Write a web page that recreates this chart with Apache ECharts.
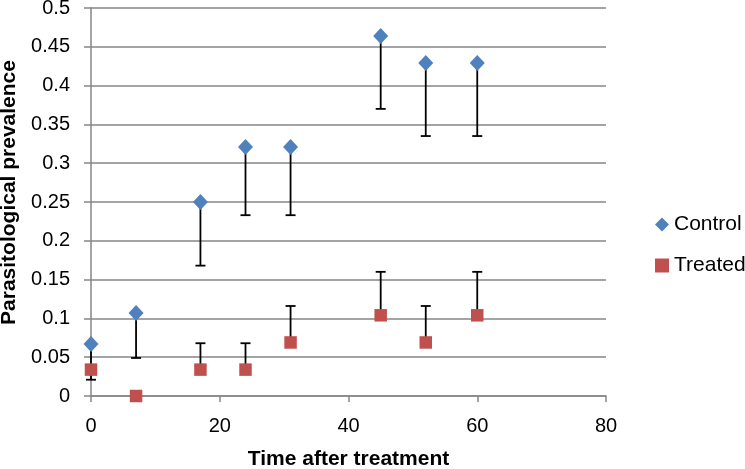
<!DOCTYPE html>
<html><head><meta charset="utf-8">
<script src="https://cdn.jsdelivr.net/npm/echarts@6/dist/echarts.min.js"></script>
<style>html,body{margin:0;padding:0;background:#fff}#c{width:745px;height:469px}</style>
</head><body><div id="c"></div>
<script>
var days = [0, 7, 17, 24, 31, 45, 52, 60];
var control = [0.067, 0.107, 0.25, 0.321, 0.321, 0.464, 0.429, 0.429];
var controlLow = [0.021, 0.049, 0.168, 0.233, 0.233, 0.370, 0.335, 0.335];
var treated = [0.034, 0, 0.034, 0.034, 0.069, 0.104, 0.069, 0.104];
var treatedHigh = [null, null, 0.068, 0.068, 0.116, 0.160, 0.116, 0.160];
var xTicks = [0, 20, 40, 60, 80];

var font = '"Liberation Sans", "DejaVu Sans", sans-serif';
var gray = '#868686';

function errRender(params, api) {
  var x = api.value(0), y0 = api.value(1), y1 = api.value(2);
  var p0 = api.coord([x, y0]), p1 = api.coord([x, y1]);
  var hw = 5;
  return {
    type: 'group',
    children: [
      {type: 'line', shape: {x1: p0[0], y1: p0[1], x2: p1[0], y2: p1[1]}, style: {stroke: '#000', lineWidth: 1.8}},
      {type: 'line', shape: {x1: p1[0] - hw, y1: p1[1], x2: p1[0] + hw, y2: p1[1]}, style: {stroke: '#000', lineWidth: 1.8}}
    ]
  };
}

var ctrlErr = [], trtErr = [];
days.forEach(function (d, i) {
  if (controlLow[i] != null) ctrlErr.push([d, control[i], controlLow[i]]);
  if (treatedHigh[i] != null) trtErr.push([d, treated[i], treatedHigh[i]]);
});

var chart = echarts.init(document.getElementById('c'));
chart.setOption({
  animation: false,
  textStyle: {fontFamily: font},
  grid: {left: 91, right: 139, top: 8, bottom: 73, containLabel: false, outerBoundsMode: 'none'},
  xAxis: {
    type: 'value', min: 0, max: 80, interval: 20,
    name: 'Time after treatment', nameLocation: 'middle', nameGap: 53,
    nameTextStyle: {fontSize: 21, fontWeight: 'bold', color: '#000', fontFamily: font},
    axisLine: {show: true, lineStyle: {color: gray, width: 1.5}},
    axisTick: {show: true, length: 6, lineStyle: {color: gray, width: 1.5}},
    axisLabel: {fontSize: 20, color: '#000', margin: 20, fontFamily: font,
      formatter: function (v) { return xTicks.indexOf(v) >= 0 ? String(v) : ''; }},
    splitLine: {show: false}
  },
  yAxis: {
    type: 'value', min: 0, max: 0.5, interval: 0.05,
    name: 'Parasitological prevalence', nameLocation: 'middle', nameGap: 69,
    nameTextStyle: {fontSize: 21, fontWeight: 'bold', color: '#000', fontFamily: font, padding: [0, 0, 0, 19]},
    axisLine: {show: true, lineStyle: {color: gray, width: 1.5}},
    axisTick: {show: true, length: 7, lineStyle: {color: gray, width: 1.5}},
    axisLabel: {fontSize: 20, color: '#000', margin: 21, fontFamily: font,
      formatter: function (v) { return String(Math.round(v * 100) / 100); }},
    splitLine: {show: true, lineStyle: {color: gray, width: 1.5}}
  },
  legend: {
    orient: 'vertical', left: 650, top: 209, itemWidth: 14, itemHeight: 14,
    itemGap: 20, textStyle: {fontSize: 21, color: '#000', fontFamily: font},
    data: [{name: 'Control', icon: 'diamond'}, {name: 'Treated', icon: 'rect'}]
  },
  series: [
    {type: 'custom', name: 'ctrlErr', renderItem: errRender, data: ctrlErr, z: 2, silent: true},
    {type: 'custom', name: 'trtErr', renderItem: errRender, data: trtErr, z: 2, silent: true},
    {type: 'scatter', name: 'Control', symbol: 'diamond', symbolSize: [15, 16], z: 5,
      itemStyle: {color: '#4F81BD', opacity: 1},
      data: days.map(function (d, i) { return [d, control[i]]; })},
    {type: 'scatter', name: 'Treated', symbol: 'rect', symbolSize: 12.5, z: 5,
      itemStyle: {color: '#C0504D', opacity: 1},
      data: days.map(function (d, i) { return [d, treated[i]]; })}
  ]
});
</script></body></html>
